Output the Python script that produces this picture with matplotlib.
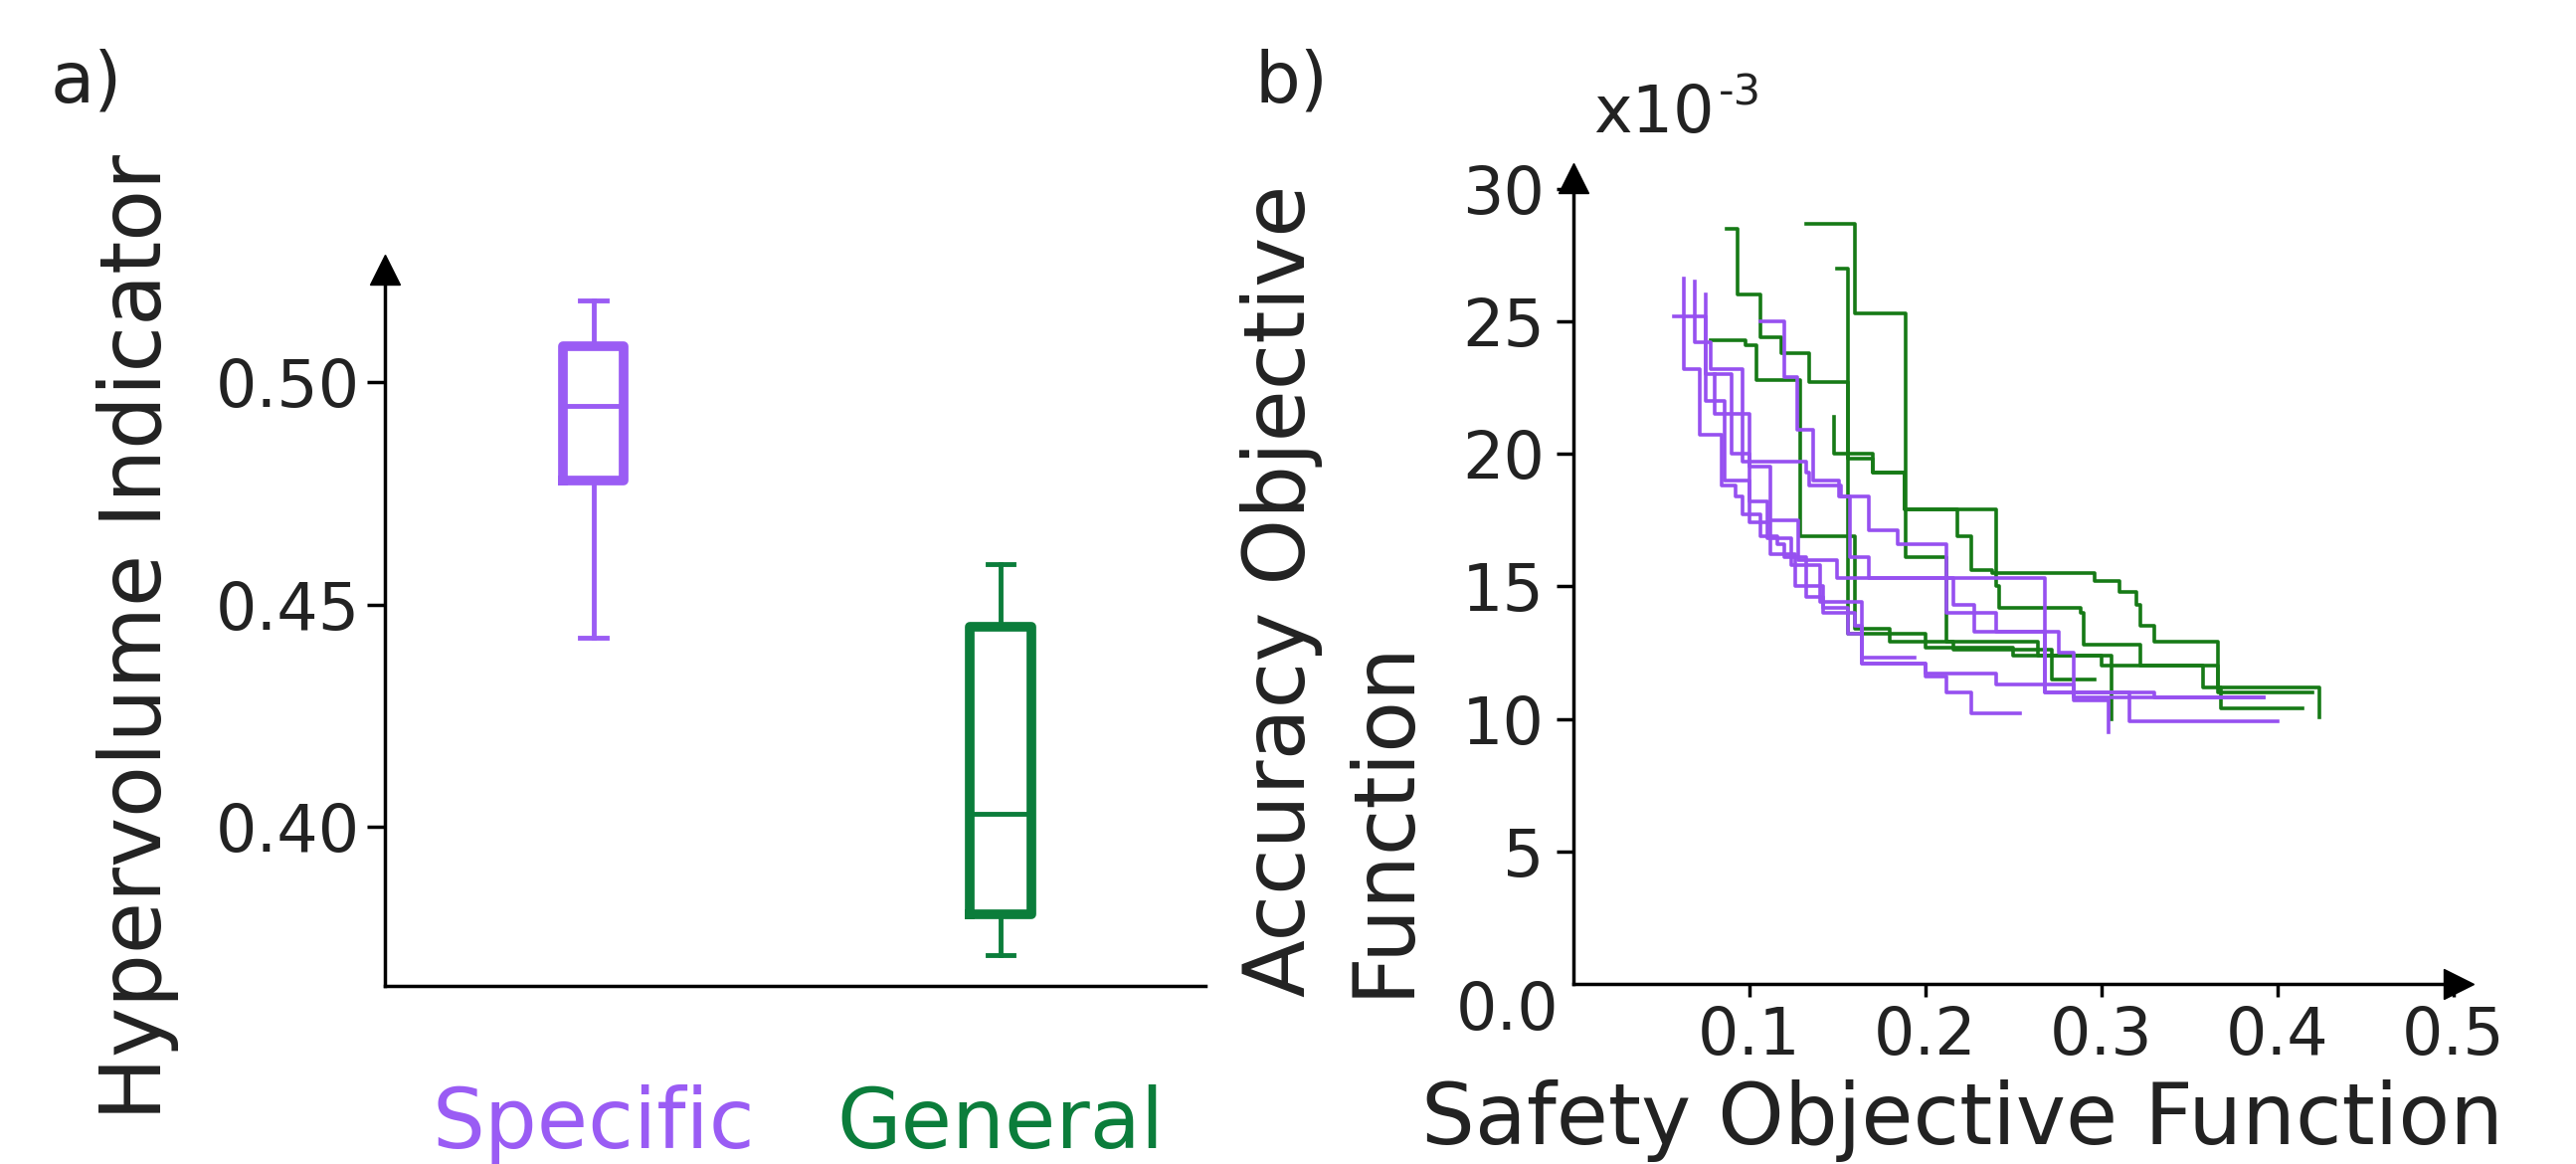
import matplotlib
matplotlib.use('Agg')
from matplotlib import pyplot as plt

purple = '#9a5cf4'
green = '#0b7d3b'
purple_line = '#9650f0'
green_line = '#167a16'
ink = '#222222'

# panel a: hypervolume indicator box statistics
groups = ['Specific', 'General']
hv_low = [0.4425, 0.3712]
hv_q1 = [0.4778, 0.3803]
hv_med = [0.4946, 0.4030]
hv_q3 = [0.5080, 0.4450]
hv_high = [0.5184, 0.4591]

# panel b: pareto fronts, safety objective vs accuracy objective (x1e-3)
spec1_safety = [0.063, 0.063, 0.072, 0.084, 0.092, 0.096, 0.106, 0.116, 0.120, 0.132, 0.142, 0.160, 0.164, 0.200, 0.240, 0.284, 0.316, 0.400]
spec1_acc = [26.6, 23.2, 20.7, 18.8, 18.4, 17.7, 16.9, 16.6, 16.1, 14.6, 14.0, 13.5, 12.1, 11.7, 11.3, 11.0, 9.9, 9.9]
spec2_safety = [0.069, 0.069, 0.078, 0.096, 0.132, 0.134, 0.152, 0.168, 0.184, 0.212, 0.216, 0.228, 0.276, 0.284, 0.392]
spec2_acc = [26.5, 24.2, 23.2, 19.7, 19.3, 18.8, 18.4, 17.1, 16.6, 15.3, 14.3, 13.3, 12.5, 10.8, 10.8]
spec3_safety = [0.057, 0.075, 0.086, 0.100, 0.112, 0.126, 0.142, 0.156, 0.164, 0.200, 0.212, 0.226, 0.254]
spec3_acc = [25.2, 22.0, 19.0, 17.4, 16.2, 15.0, 14.2, 13.2, 12.1, 11.6, 11.0, 10.2, 10.2]
spec4_safety = [0.106, 0.120, 0.127, 0.136, 0.151, 0.157, 0.168, 0.200, 0.212, 0.240, 0.268, 0.284, 0.304, 0.304]
spec4_acc = [25.0, 22.9, 20.9, 19.0, 18.4, 16.1, 15.3, 15.3, 14.0, 13.3, 11.0, 10.7, 10.2, 9.5]
spec5_safety = [0.075, 0.075, 0.090, 0.100, 0.110, 0.124, 0.140, 0.164, 0.194]
spec5_acc = [26.0, 23.0, 20.0, 18.2, 16.8, 15.8, 14.4, 12.3, 12.3]
spec6_safety = [0.080, 0.080, 0.100, 0.112, 0.128, 0.150, 0.268, 0.268, 0.330, 0.392]
spec6_acc = [23.0, 21.5, 19.5, 17.5, 16.0, 15.3, 15.3, 11.0, 10.8, 10.8]

gen1_safety = [0.087, 0.093, 0.106, 0.118, 0.134, 0.156, 0.170, 0.188, 0.218, 0.226, 0.238, 0.296, 0.310, 0.320, 0.322, 0.330, 0.366, 0.424]
gen1_acc = [28.5, 26.0, 24.4, 23.8, 22.7, 19.8, 19.3, 17.9, 16.9, 15.6, 15.5, 15.2, 14.8, 14.3, 13.5, 12.9, 11.2, 10.05]
gen2_safety = [0.132, 0.160, 0.189, 0.212, 0.264, 0.306]
gen2_acc = [28.66, 25.3, 16.1, 12.9, 12.4, 10.0]
gen3_safety = [0.078, 0.098, 0.104, 0.129, 0.160, 0.180, 0.216, 0.272, 0.296]
gen3_acc = [24.3, 24.1, 22.8, 16.9, 13.4, 12.9, 12.6, 11.5, 11.5]
gen4_safety = [0.148, 0.148, 0.170, 0.188, 0.240, 0.242, 0.288, 0.290, 0.322, 0.358, 0.368, 0.414]
gen4_acc = [21.4, 20.0, 19.3, 17.9, 15.0, 14.2, 14.0, 12.8, 12.0, 11.2, 10.4, 10.4]
gen5_safety = [0.150, 0.156, 0.200, 0.250, 0.300, 0.366, 0.420]
gen5_acc = [27.0, 13.2, 12.7, 12.4, 12.0, 11.0, 11.0]

spec_fronts = [(spec1_safety, spec1_acc), (spec2_safety, spec2_acc), (spec3_safety, spec3_acc),
               (spec4_safety, spec4_acc), (spec5_safety, spec5_acc), (spec6_safety, spec6_acc)]
gen_fronts = [(gen1_safety, gen1_acc), (gen2_safety, gen2_acc), (gen3_safety, gen3_acc),
              (gen4_safety, gen4_acc), (gen5_safety, gen5_acc)]

W, H = 2590, 1170
fig = plt.figure(figsize=(W / 100, H / 100), dpi=100)
axa = fig.add_axes([387 / W, (H - 991) / H, (1212 - 387) / W, (991 - 271) / H])
axb = fig.add_axes([1582 / W, (H - 989) / H, (2472 - 1582) / W, (989 - 179) / H])

# a) box plots
for i, c in enumerate([purple, green]):
    stats = [dict(whislo=hv_low[i], q1=hv_q1[i], med=hv_med[i], q3=hv_q3[i],
                  whishi=hv_high[i], fliers=[])]
    axa.bxp(stats, positions=[i + 1], widths=0.15, capwidths=0.065, manage_ticks=False,
            boxprops=dict(color=c, lw=7), medianprops=dict(color=c, lw=3.5),
            whiskerprops=dict(color=c, lw=3.5), capprops=dict(color=c, lw=3.5))
axa.set_xlim(0.488, 2.503)
axa.set_ylim(0.3642, 0.5253)
axa.set_yticks([0.40, 0.45, 0.50])
axa.set_yticklabels(['0.40', '0.45', '0.50'])
axa.set_xticks([1, 2])
axa.set_xticklabels(groups)
for lab, c in zip(axa.get_xticklabels(), [purple, green]):
    lab.set_color(c)
axa.tick_params(axis='y', length=13, width=2.5, pad=5, labelsize=47, labelcolor=ink)
axa.tick_params(axis='x', length=0, pad=71, labelsize=60)

# b) pareto fronts
for sx, sy in gen_fronts:
    axb.step(sx, sy, where='post', color=green_line, lw=2.6)
for sx, sy in spec_fronts:
    axb.step(sx, sy, where='post', color=purple_line, lw=2.6)
axb.set_xlim(0, 0.503)
axb.set_ylim(0, 30.4)
axb.set_xticks([0.1, 0.2, 0.3, 0.4, 0.5])
axb.set_xticklabels(['0.1', '0.2', '0.3', '0.4', '0.5'])
axb.set_yticks([5, 10, 15, 20, 25, 30])
axb.set_yticklabels(['5', '10', '15', '20', '25', '30'])
axb.tick_params(axis='x', length=9, width=2.5, pad=6, labelsize=47, labelcolor=ink)
axb.tick_params(axis='y', length=12, width=2.5, pad=9, labelsize=47, labelcolor=ink)

for ax in (axa, axb):
    ax.spines[['top', 'right']].set_visible(False)
    ax.spines[['left', 'bottom']].set_linewidth(2.5)
    ax.plot(0, 1, '^k', ms=22, transform=ax.transAxes, clip_on=False)
axb.plot(1, 0, '>k', ms=22, transform=axb.transAxes, clip_on=False)

fig.text(51 / W, 1 - 103 / H, 'a)', fontsize=52, color=ink, va='baseline', ha='left')
fig.text(1262 / W, 1 - 103 / H, 'b)', fontsize=52, color=ink, va='baseline', ha='left')
fig.text(1602 / W, 1 - 133 / H, 'x10', fontsize=47, color=ink, va='baseline', ha='left')
fig.text(1728 / W, 1 - 106 / H, '-3', fontsize=31, color=ink, va='baseline', ha='left')
fig.text(139 / W, 1 - 641 / H, 'Hypervolume Indicator', rotation=90, fontsize=61,
         color=ink, ha='center', va='center')
fig.text(1340 / W, 1 - 1002 / H, 'Accuracy Objective\nFunction', rotation=90, fontsize=61,
         color=ink, ha='center', va='bottom', multialignment='left', linespacing=1.3)
fig.text(2517 / W, 1 - 1150 / H, 'Safety Objective Function', fontsize=61, color=ink,
         ha='right', va='baseline')
fig.text(1516 / W, 1 - 1017 / H, '0.0', fontsize=47, color=ink, ha='center', va='center')

fig.savefig('out.png', dpi=100)
